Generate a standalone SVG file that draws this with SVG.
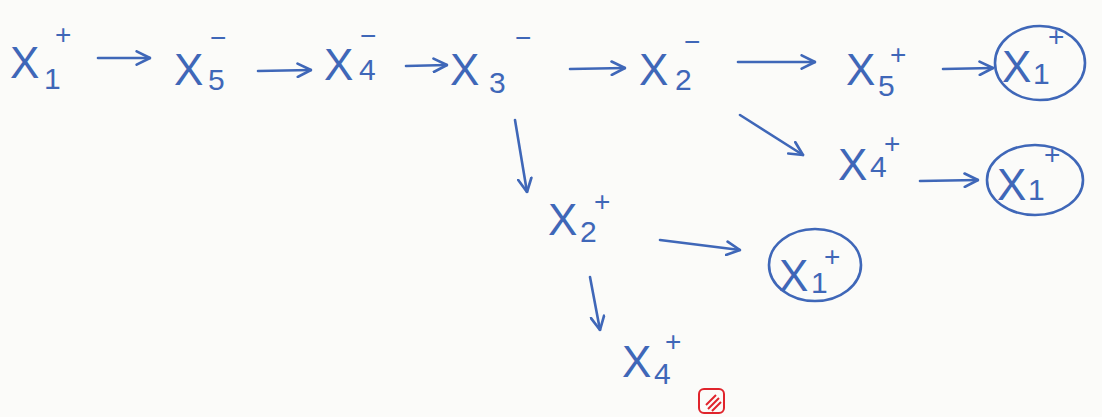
<svg xmlns="http://www.w3.org/2000/svg" width="1102" height="417" viewBox="0 0 1102 417">
<style>
text{font-family:"Liberation Sans",Arial,sans-serif;fill:#3f67b8}
.x{font-size:44px}
.sub{font-size:30px}
.sup{font-size:28px}
.con{fill:none;stroke:#3f67b8;stroke-width:2.6;stroke-linecap:round;marker-end:url(#ah)}
.ring{fill:none;stroke:#3f67b8;stroke-width:2.6}
</style>
<defs>
<marker id="ah" markerUnits="userSpaceOnUse" markerWidth="16" markerHeight="16" viewBox="0 0 12 12" refX="11" refY="6" orient="auto">
<path d="M1,1 L11,6 L1,11" fill="none" stroke="#3f67b8" stroke-width="2" stroke-linecap="round" stroke-linejoin="round"/>
</marker>
</defs>
<rect width="1102" height="417" fill="#fbfbf9"/>
<g id="connectors">
<path class="con" d="M98,58 L150,58"/>
<path class="con" d="M258,71 L311,70"/>
<path class="con" d="M406,66 L447,65"/>
<path class="con" d="M570,69 L625,68"/>
<path class="con" d="M738,62 L815,62"/>
<path class="con" d="M943,69 L993,68"/>
<path class="con" d="M740,115 L803,155"/>
<path class="con" d="M920,181 L978,180"/>
<path class="con" d="M515,120 L527,192"/>
<path class="con" d="M660,240 L740,250"/>
<path class="con" d="M590,277 L600,330"/>
</g>
<g id="n1"><text class="x" x="10" y="78">X</text><text class="sub" x="44" y="89">1</text><text class="sup" x="55" y="44">+</text></g>
<g id="n2"><text class="x" x="174" y="85">X</text><text class="sub" x="208" y="90">5</text><text class="sup" x="210" y="47">−</text></g>
<g id="n3"><text class="x" x="324" y="80">X</text><text class="sub" x="359" y="80">4</text><text class="sup" x="360" y="45">−</text></g>
<g id="n4"><text class="x" x="450" y="85">X</text><text class="sub" x="489" y="93">3</text><text class="sup" x="515" y="47">−</text></g>
<g id="n5"><text class="x" x="639" y="85">X</text><text class="sub" x="675" y="90">2</text><text class="sup" x="684" y="51">−</text></g>
<g id="n6"><text class="x" x="846" y="85">X</text><text class="sub" x="878" y="96">5</text><text class="sup" x="890" y="64">+</text></g>
<g id="n7"><ellipse class="ring" cx="1040" cy="63" rx="45" ry="37"/><text class="x" x="1002" y="82">X</text><text class="sub" x="1033" y="84">1</text><text class="sup" x="1048" y="46">+</text></g>
<g id="n8"><text class="x" x="838" y="180">X</text><text class="sub" x="870" y="177">4</text><text class="sup" x="884" y="153">+</text></g>
<g id="n9"><ellipse class="ring" cx="1035" cy="180" rx="48" ry="35"/><text class="x" x="997" y="200">X</text><text class="sub" x="1028" y="200">1</text><text class="sup" x="1044" y="164">+</text></g>
<g id="n10"><text class="x" x="548" y="235">X</text><text class="sub" x="580" y="242">2</text><text class="sup" x="594" y="211">+</text></g>
<g id="n11"><ellipse class="ring" cx="815" cy="265" rx="46" ry="36"/><text class="x" x="779" y="291">X</text><text class="sub" x="811" y="293">1</text><text class="sup" x="824" y="266">+</text></g>
<g id="n12"><text class="x" x="622" y="377">X</text><text class="sub" x="654" y="384">4</text><text class="sup" x="665" y="351">+</text></g>
<g id="stamp" fill="none" stroke="#e0242c" stroke-width="2">
<rect x="699" y="389" width="25" height="24" rx="5"/>
<path d="M706,405 L716,395 M708,409 L719,398 M712,411 L721,402"/>
</g>
</svg>
